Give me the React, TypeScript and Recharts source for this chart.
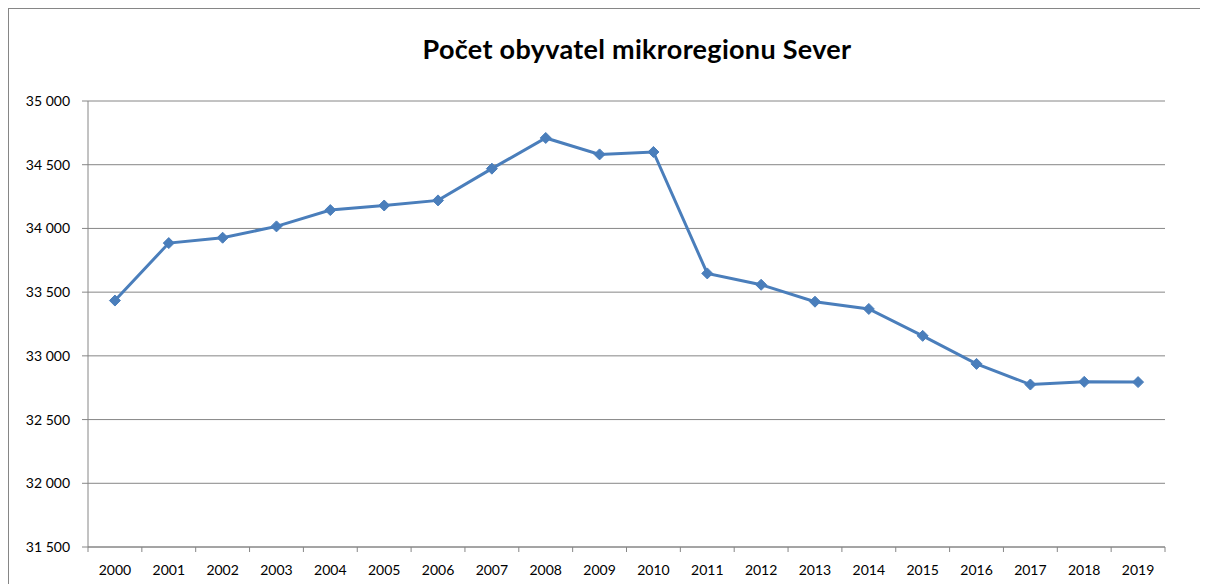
import { LineChart, Line, XAxis, YAxis, CartesianGrid } from 'recharts';

const years = [
  '2000', '2001', '2002', '2003', '2004', '2005', '2006', '2007', '2008', '2009',
  '2010', '2011', '2012', '2013', '2014', '2015', '2016', '2017', '2018', '2019',
];
const population = [
  33434, 33885, 33927, 34016, 34144, 34180, 34220, 34469, 34710, 34581,
  34600, 33647, 33558, 33425, 33368, 33157, 32937, 32775, 32796, 32794,
];
const yTicks = [31500, 32000, 32500, 33000, 33500, 34000, 34500, 35000];

const chartData = years.map((year, i) => ({ year, value: population[i] }));

const CHART_W = 1199;
const CHART_H = 575;
const MARGIN = { top: 92, right: 43, left: 0, bottom: 0 };
const Y_AXIS_W = 79;
const PLOT_W = CHART_W - MARGIN.left - MARGIN.right - Y_AXIS_W;
const STEP = PLOT_W / years.length;

const LINE_COLOR = '#4a7ebb';
const AXIS_COLOR = '#868686';
const FONT = 'Lato, "Open Sans", sans-serif';

const formatThousands = (v: number) => String(v).replace(/\B(?=(\d{3})+(?!\d))/g, ' ');

function Diamond(props: any) {
  const { cx, cy } = props;
  if (cx == null || cy == null) return null;
  const r = 5.5;
  return (
    <polygon
      points={`${cx},${cy - r} ${cx + r},${cy} ${cx},${cy + r} ${cx - r},${cy}`}
      fill={LINE_COLOR}
      stroke={LINE_COLOR}
      strokeWidth={1}
    />
  );
}

// label at the category centre, tick mark on the category boundary (Excel style)
function YearTick(props: any) {
  const { x, y, payload, index } = props;
  const left = x - STEP / 2;
  return (
    <g>
      <line x1={left} y1={y} x2={left} y2={y + 5} stroke={AXIS_COLOR} />
      {index === years.length - 1 && (
        <line x1={x + STEP / 2} y1={y} x2={x + STEP / 2} y2={y + 5} stroke={AXIS_COLOR} />
      )}
      <text x={x} y={y + 28} textAnchor="middle" fontSize={14} fontFamily={FONT} fill="#000">
        {payload.value}
      </text>
    </g>
  );
}

export default function App() {
  return (
    <div
      style={{
        position: 'relative',
        width: 1200,
        height: 576,
        boxSizing: 'border-box',
        borderTop: `1px solid ${AXIS_COLOR}`,
        borderLeft: `1px solid ${AXIS_COLOR}`,
        background: '#fff',
        overflow: 'hidden',
      }}
    >
      <style>{'html,body{overflow:hidden}'}</style>
      <div
        style={{
          position: 'absolute',
          top: 26,
          left: 0,
          width: 1256,
          textAlign: 'center',
          fontFamily: FONT,
          fontWeight: 700,
          fontSize: 27,
          lineHeight: '27px',
          letterSpacing: 0.3,
          color: '#000',
        }}
      >
        Počet obyvatel mikroregionu Sever
      </div>
      <div style={{ position: 'absolute', top: 0, left: 0 }}>
        <LineChart width={CHART_W} height={CHART_H} data={chartData} margin={MARGIN}>
          <CartesianGrid horizontal vertical={false} stroke={AXIS_COLOR} />
          <XAxis
            dataKey="year"
            height={37}
            stroke={AXIS_COLOR}
            tickLine={false}
            tickSize={0}
            tickMargin={0}
            interval={0}
            padding={{ left: STEP / 2, right: STEP / 2 }}
            tick={<YearTick />}
          />
          <YAxis
            width={Y_AXIS_W}
            domain={[31500, 35000]}
            ticks={yTicks}
            interval={0}
            stroke={AXIS_COLOR}
            tickSize={6}
            tickMargin={12}
            tickFormatter={formatThousands}
            tick={{ fill: '#000', fontSize: 14, fontFamily: FONT }}
          />
          <Line
            type="linear"
            dataKey="value"
            stroke={LINE_COLOR}
            strokeWidth={3}
            dot={<Diamond />}
            activeDot={false}
            isAnimationActive={false}
          />
        </LineChart>
      </div>
    </div>
  );
}
